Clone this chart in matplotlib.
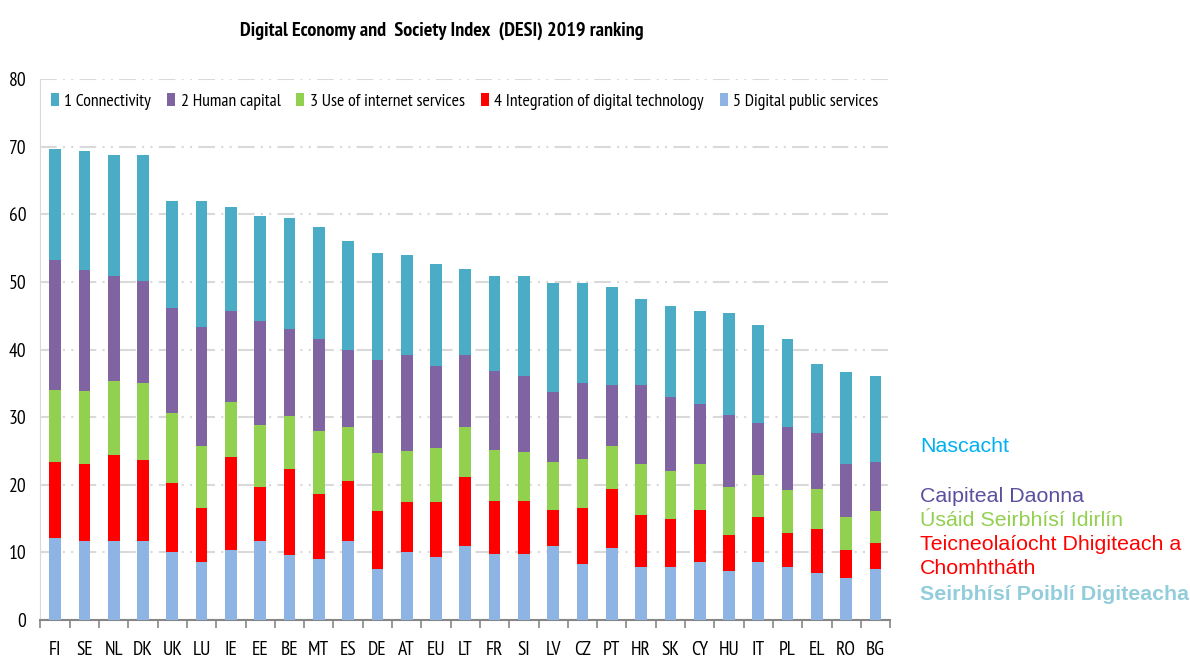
import matplotlib.pyplot as plt
import numpy as np

plt.rcParams['font.family'] = ['PT Sans Narrow', 'Carlito', 'DejaVu Sans']

countries = ['FI', 'SE', 'NL', 'DK', 'UK', 'LU', 'IE', 'EE', 'BE', 'MT', 'ES', 'DE', 'AT', 'EU', 'LT',
             'FR', 'SI', 'LV', 'CZ', 'PT', 'HR', 'SK', 'CY', 'HU', 'IT', 'PL', 'EL', 'RO', 'BG']

digital_public = [12.1, 11.7, 11.7, 11.7, 10.0, 8.6, 10.4, 11.7, 9.6, 9.0, 11.7, 7.5, 10.0, 9.3, 11.0,
                  9.7, 9.7, 11.0, 8.3, 10.7, 7.9, 7.9, 8.6, 7.3, 8.6, 7.9, 6.9, 6.2, 7.5]
integration = [11.3, 11.3, 12.7, 12.0, 10.3, 7.9, 13.7, 7.9, 12.7, 9.6, 8.9, 8.6, 7.5, 8.2, 10.1,
               7.9, 7.9, 5.3, 8.3, 8.6, 7.6, 7.0, 7.6, 5.2, 6.6, 4.9, 6.6, 4.2, 3.9]
use_internet = [10.6, 10.9, 11.0, 11.3, 10.3, 9.3, 8.2, 9.2, 7.9, 9.3, 7.9, 8.6, 7.5, 7.9, 7.5,
                7.5, 7.2, 7.1, 7.2, 6.5, 7.5, 7.1, 6.8, 7.1, 6.2, 6.4, 5.8, 4.8, 4.7]
human_capital = [19.2, 17.9, 15.5, 15.1, 15.5, 17.5, 13.4, 15.4, 12.8, 13.7, 11.4, 13.8, 14.2, 12.1, 10.6,
                 11.7, 11.3, 10.3, 11.3, 9.0, 11.7, 11.0, 8.9, 10.7, 7.8, 9.3, 8.3, 7.9, 7.3]
connectivity = [16.5, 17.5, 17.9, 18.6, 15.8, 18.6, 15.4, 15.5, 16.4, 16.5, 16.1, 15.8, 14.8, 15.1, 12.7,
                14.1, 14.8, 16.2, 14.8, 14.4, 12.7, 13.4, 13.8, 15.1, 14.4, 13.1, 10.3, 13.5, 12.7]

series = [
    ('1 Connectivity', connectivity, '#4BACC6'),
    ('2 Human capital', human_capital, '#8064A2'),
    ('3 Use of internet services', use_internet, '#92D050'),
    ('4 Integration of digital technology', integration, '#FF0000'),
    ('5 Digital public services', digital_public, '#8EB4E3'),
]

fig = plt.figure(figsize=(11.9, 6.6), dpi=100)
ax = fig.add_axes([0.034, 0.0606, 0.714, 0.8197])

x = np.arange(len(countries))
bottom = np.zeros(len(countries))
handles = {}
# stack from the bottom: series 5 first
for label, vals, color in reversed(series):
    b = ax.bar(x, vals, 0.4, bottom=bottom, color=color, label=label, zorder=3)
    handles[label] = b
    bottom += np.array(vals)

ax.set_xlim(-0.5, len(countries) - 0.5)
ax.set_ylim(0, 80)
ax.set_yticks(range(0, 81, 10))
ax.set_xticks(x)
ax.set_xticklabels(countries)
ax.set_xticks(np.arange(-0.5, len(countries)), minor=True)
ax.tick_params(axis='x', which='major', length=0, labelsize=14, pad=15)
ax.tick_params(axis='x', which='minor', length=6, width=1.2, color='#868686', direction='out')
ax.tick_params(axis='y', length=0, labelsize=14, pad=10)

ax.yaxis.grid(True, color='#D9D9D9', linewidth=1.5, linestyle=(0, (8, 3, 1, 3, 1, 3)), zorder=0)
for s in ['top', 'right']:
    ax.spines[s].set_visible(False)
ax.spines['left'].set_color('#D9D9D9')
ax.spines['bottom'].set_color('#868686')
ax.spines['bottom'].set_linewidth(1.5)

order = [s[0] for s in series]
ax.legend([handles[o] for o in order], order, ncol=5, loc='center left', bbox_to_anchor=(0.0, 0.959),
          frameon=False, fontsize=12.8, handlelength=0.45, handleheight=0.75, handletextpad=0.3,
          columnspacing=0.9, borderaxespad=0.2)

fig.text(0.371, 0.953, 'Digital Economy and  Society Index  (DESI) 2019 ranking', ha='center', va='center',
         fontsize=14.5, fontweight='bold')

# Irish labels on the right
irish = [
    ('Nascacht', 447, '#00B0F0', 'normal'),
    ('Caipiteal Daonna', 496, '#5B4F9E', 'normal'),
    ('Úsáid Seirbhísí Idirlín', 520, '#92D050', 'normal'),
    ('Teicneolaíocht Dhigiteach a', 545, '#FF0000', 'normal'),
    ('Chomhtháth', 569, '#FF0000', 'normal'),
    ('Seirbhísí Poiblí Digiteacha', 594, '#92CDDC', 'bold'),
]
for txt, ypix, color, weight in irish:
    fig.text(920 / 1190, 1 - ypix / 660, txt, ha='left', va='center', fontsize=15.4, color=color,
             fontweight=weight, family=['Liberation Sans', 'DejaVu Sans'])

fig.savefig('out.png', dpi=100)
